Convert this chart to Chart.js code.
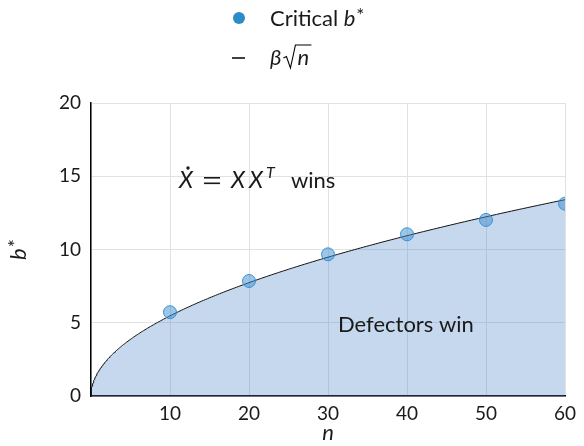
<!DOCTYPE html>
<html>
<head>
<meta charset="utf-8">
<script src="https://cdn.jsdelivr.net/npm/chart.js@4.4.1/dist/chart.umd.min.js"></script>
<style>
  html, body { margin: 0; padding: 0; background: #fff; }
  #wrap { width: 584px; height: 446px; }
</style>
</head>
<body>
<div id="wrap"><canvas id="c" width="584" height="446"></canvas></div>
<script>
// Critical b* measured at each population size n
const nValues = [10, 20, 30, 40, 50, 60];
const criticalB = [5.72, 7.85, 9.67, 11.04, 12.02, 13.13];

// Fitted coefficient of the beta * sqrt(n) boundary
const beta = 1.73;

// Axis ticks
const xTicks = [0, 10, 20, 30, 40, 50, 60];
const yTicks = [0, 5, 10, 15, 20];

const FONT = 'Lato, "Open Sans", sans-serif';

// Sample the boundary curve densely near n = 0 where it is steep
const curvePoints = [];
for (let i = 0; i <= 240; i++) {
  const n = 60 * Math.pow(i / 240, 2);
  curvePoints.push({ x: n, y: beta * Math.sqrt(n) });
}

const scatterPoints = nValues.map((n, i) => ({ x: n, y: criticalB[i] }));

// Legend, region labels and axis titles contain math, so they are drawn by hand
const overlay = {
  id: 'overlay',
  afterDraw(chart) {
    const ctx = chart.ctx;
    const xs = chart.scales.x;
    ctx.save();
    ctx.fillStyle = '#1a1a1a';
    ctx.textBaseline = 'alphabetic';
    ctx.textAlign = 'left';

    // legend row 1: marker + "Critical b*"
    ctx.beginPath();
    ctx.arc(239, 18, 6, 0, Math.PI * 2);
    ctx.fillStyle = '#2b8cc8';
    ctx.fill();
    ctx.fillStyle = '#1a1a1a';
    ctx.font = '22px ' + FONT;
    let x = 270;
    ctx.fillText('Critical ', x, 26);
    x += ctx.measureText('Critical ').width;
    ctx.font = 'italic 22px ' + FONT;
    ctx.fillText('b', x, 26);
    x += ctx.measureText('b').width + 1;
    ctx.font = '19px ' + FONT;
    ctx.fillText('*', x, 22);

    // legend row 2: line + "β√n"
    ctx.strokeStyle = '#000';
    ctx.lineWidth = 1.5;
    ctx.beginPath();
    ctx.moveTo(232, 58);
    ctx.lineTo(245, 58);
    ctx.stroke();
    ctx.font = 'italic 22px ' + FONT;
    x = 270;
    ctx.fillText('β', x, 65);
    x += ctx.measureText('β').width + 2;
    // radical sign
    ctx.lineWidth = 1.1;
    ctx.beginPath();
    ctx.moveTo(x, 58);
    ctx.lineTo(x + 3, 56.5);
    ctx.lineTo(x + 7, 68);
    ctx.lineTo(x + 12, 45);
    ctx.lineTo(x + 28, 45);
    ctx.stroke();
    ctx.fillText('n', x + 14, 65);

    // "Ẋ = XX^T wins"
    const by = 188;
    ctx.font = 'italic 23px ' + FONT;
    ctx.fillText('X', 179, by);
    const wX = ctx.measureText('X').width;
    ctx.beginPath();
    ctx.arc(179 + wX / 2 + 2, by - 20, 1.7, 0, Math.PI * 2);
    ctx.fill();
    // equals sign as two bars
    ctx.fillRect(204, by - 11, 16, 1.6);
    ctx.fillRect(204, by - 5.5, 16, 1.6);
    ctx.font = 'italic 23px ' + FONT;
    const xx = 231;
    ctx.fillText('X', xx, by);
    ctx.fillText('X', xx + wX + 4, by);
    ctx.font = 'italic 16px ' + FONT;
    ctx.fillText('T', xx + 2 * wX + 7, by - 10);
    ctx.font = '22px ' + FONT;
    ctx.fillText('wins', 291, by);

    // "Defectors win"
    ctx.font = '22px ' + FONT;
    ctx.fillText('Defectors win', 338, 332);

    // x axis title
    ctx.font = 'italic 22px ' + FONT;
    ctx.textAlign = 'center';
    ctx.fillText('n', (xs.left + xs.right) / 2, 440);

    // y axis title, rotated
    ctx.translate(26, 249.5);
    ctx.rotate(-Math.PI / 2);
    ctx.textAlign = 'left';
    ctx.font = 'italic 22px ' + FONT;
    const wb = ctx.measureText('b').width;
    ctx.fillText('b', -10.5, 0);
    ctx.font = '19px ' + FONT;
    ctx.fillText('*', -10.5 + wb + 1, -4);
    ctx.restore();
  }
};

new Chart(document.getElementById('c'), {
  type: 'scatter',
  data: {
    datasets: [
      {
        label: 'Critical b*',
        data: scatterPoints,
        order: 0,
        pointRadius: 6.5,
        pointHoverRadius: 6.5,
        backgroundColor: 'rgba(60,140,205,0.5)',
        borderColor: 'rgba(45,140,210,0.9)',
        borderWidth: 1
      },
      {
        label: 'β√n',
        type: 'line',
        data: curvePoints,
        order: 1,
        showLine: true,
        fill: 'origin',
        backgroundColor: 'rgba(70,130,200,0.31)',
        borderColor: '#111',
        borderWidth: 1,
        pointRadius: 0,
        tension: 0
      }
    ]
  },
  options: {
    responsive: false,
    animation: false,
    devicePixelRatio: 1,
    layout: { padding: { top: 103, right: 19, left: 0, bottom: 0 } },
    plugins: {
      legend: { display: false },
      tooltip: { enabled: false }
    },
    scales: {
      x: {
        type: 'linear',
        min: 0, max: 60,
        afterBuildTicks(axis) { axis.ticks = xTicks.map(v => ({ value: v })); },
        afterFit(axis) { axis.height = 50; },
        ticks: {
          color: '#1a1a1a',
          font: { family: FONT, size: 19 },
          padding: 6,
          maxRotation: 0,
          callback: v => (v === 0 ? '' : String(v))
        },
        grid: { color: '#e2e2e2', lineWidth: 1, drawTicks: false },
        border: { color: '#000', width: 1.5 }
      },
      y: {
        type: 'linear',
        min: 0, max: 20,
        afterBuildTicks(axis) { axis.ticks = yTicks.map(v => ({ value: v })); },
        afterFit(axis) { axis.width = 91; },
        ticks: {
          color: '#1a1a1a',
          font: { family: FONT, size: 19 },
          padding: 10
        },
        grid: { color: '#e2e2e2', lineWidth: 1, drawTicks: false },
        border: { color: '#000', width: 1.5 }
      }
    }
  },
  plugins: [overlay]
});
</script>
</body>
</html>
